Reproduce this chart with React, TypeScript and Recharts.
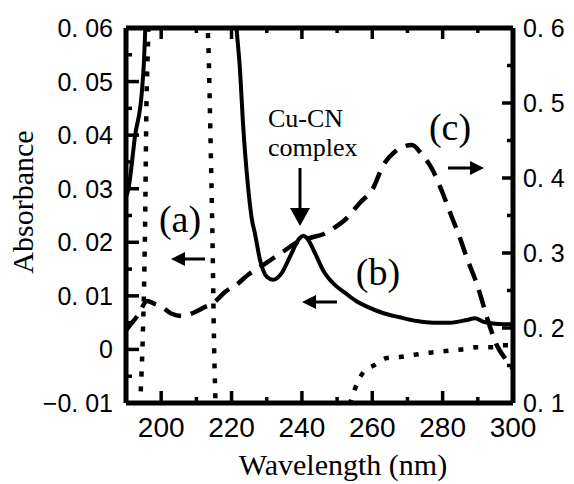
import React from 'react';
import { LineChart, Line, XAxis, YAxis } from 'recharts';

// axis ticks
const nmTicks = [200, 210, 220, 230, 240, 250, 260, 270, 280, 290, 300];
const nmLabels = ['200', '', '220', '', '240', '', '260', '', '280', '', '300'];
const absTicks = [-0.01, -0.005, 0, 0.005, 0.01, 0.015, 0.02, 0.025, 0.03, 0.035, 0.04, 0.045, 0.05, 0.055, 0.06];
const absLabels = ['−0. 01', '', '0', '', '0. 01', '', '0. 02', '', '0. 03', '', '0. 04', '', '0. 05', '', '0. 06'];
const rightTicks = [0.1, 0.15, 0.2, 0.25, 0.3, 0.35, 0.4, 0.45, 0.5, 0.55, 0.6];
const rightLabels = ['0. 1', '', '0. 2', '', '0. 3', '', '0. 4', '', '0. 5', '', '0. 6'];

// (a) dotted, left axis
const aNm = [190, 193.6, 194.1, 194.8, 195.4, 195.8, 196.3, 197, 205, 212, 212.8, 213.5, 214.0, 214.6, 215.0, 215.4, 216, 230, 250, 253.5, 255, 257.3, 260.7, 264.1, 267.8, 272, 276.4, 281, 285.5, 289.7, 294.8, 297.1, 300];
const aAbs = [-0.03, -0.015, -0.009, 0.003, 0.022, 0.045, 0.058, 0.075, 0.09, 0.08, 0.065, 0.055, 0.04, 0.02, 0.002, -0.009, -0.02, -0.03, -0.02, -0.0105, -0.0075, -0.0044, -0.0029, -0.0016, -0.0014, -0.001, -0.0006, -0.0003, 0.0, 0.0004, 0.0004, 0.0008, 0.0008];

// (b) solid, left axis
const bNm = [190, 190.6, 192.6, 194.5, 195.1, 195.4, 196, 200, 210, 220.5, 221.5, 222.4, 223.2, 224.7, 225.8, 226.6, 228.1, 230.1, 231.8, 234.3, 236.6, 239.4, 240.4, 241.4, 243.7, 246, 248.8, 252.4, 255.5, 258.5, 263, 267.8, 272.7, 277.3, 282, 286.9, 289.2, 291.4, 295, 300];
const bAbs = [0.0285, 0.0297, 0.040, 0.048, 0.0537, 0.0585, 0.068, 0.09, 0.09, 0.068, 0.0593, 0.0522, 0.0428, 0.0303, 0.0242, 0.0218, 0.0167, 0.0135, 0.0130, 0.0143, 0.0173, 0.0208, 0.0212, 0.0208, 0.0180, 0.0148, 0.0124, 0.0105, 0.0090, 0.0080, 0.0068, 0.0060, 0.0053, 0.0050, 0.0050, 0.0055, 0.0058, 0.0052, 0.0048, 0.0047];

// (c) dashed, right axis
const cNm = [190, 191, 193.4, 196, 198.2, 200.2, 203, 206, 209, 212.4, 214.7, 218.4, 221.5, 224.7, 228, 231.5, 235, 238.9, 243, 246, 249, 252.2, 256.5, 260.2, 263, 266.4, 269, 271.3, 274, 277, 280, 282.6, 284.3, 287, 290, 292.8, 295.4, 298, 300];
const cAbs = [0.197, 0.203, 0.217, 0.236, 0.232, 0.228, 0.219, 0.216, 0.220, 0.228, 0.233, 0.249, 0.258, 0.271, 0.281, 0.292, 0.303, 0.315, 0.321, 0.325, 0.333, 0.344, 0.367, 0.386, 0.416, 0.435, 0.442, 0.444, 0.432, 0.412, 0.380, 0.348, 0.328, 0.292, 0.255, 0.211, 0.177, 0.158, 0.145];

const toRows = (xs: number[], ys: number[]) => xs.map((nm, i) => ({ nm, v: ys[i] }));
const dataA = toRows(aNm, aAbs);
const dataB = toRows(bNm, bAbs);
const dataC = toRows(cNm, cAbs);

const tickFont = 'Liberation Sans, Arial, sans-serif';
const serif = 'Liberation Serif, Times New Roman, serif';

const BottomTick = ({ x, y, index }: any) => {
  const label = nmLabels[index];
  return (
    <g>
      <line x1={x} x2={x} y1={y} y2={y - (label ? 12 : 6)} stroke="#000" strokeWidth={3.5} />
      {label && (
        <text x={x} y={y + 34} textAnchor="middle" fontFamily="Liberation Sans Narrow, Arial Narrow, sans-serif" fontSize={28} fill="#000">
          {label}
        </text>
      )}
    </g>
  );
};

const TopTick = ({ x, y, index }: any) => {
  const major = nmLabels[index] !== '';
  return <line x1={x} x2={x} y1={y} y2={y + (major ? 11 : 5)} stroke="#000" strokeWidth={3.5} />;
};

const LeftTick = ({ x, y, index }: any) => {
  const label = absLabels[index];
  return (
    <g>
      <line x1={x} x2={x + (label ? 13 : 6)} y1={y} y2={y} stroke="#000" strokeWidth={3.5} />
      {label && (
        <text x={x - 13} y={y + 9} textAnchor="end" fontFamily={tickFont} fontSize={25} fill="#000">
          {label}
        </text>
      )}
    </g>
  );
};

const RightTick = ({ x, y, index }: any) => {
  const label = rightLabels[index];
  return (
    <g>
      <line x1={x} x2={x - (label ? 11 : 6)} y1={y} y2={y} stroke="#000" strokeWidth={3.5} />
      {label && (
        <text x={x + 10} y={y + 9} textAnchor="start" fontFamily={tickFont} fontSize={25} fill="#000">
          {label}
        </text>
      )}
    </g>
  );
};

const Arrow = ({ x1, y1, x2, y2, head = 14, half = 7 }: any) => {
  const dx = x2 - x1;
  const dy = y2 - y1;
  const len = Math.hypot(dx, dy);
  const ux = dx / len;
  const uy = dy / len;
  const bx = x2 - ux * head;
  const by = y2 - uy * head;
  return (
    <g>
      <line x1={x1} y1={y1} x2={bx} y2={by} stroke="#000" strokeWidth={3} />
      <polygon
        points={`${x2},${y2} ${bx - uy * half},${by + ux * half} ${bx + uy * half},${by - ux * half}`}
        fill="#000"
      />
    </g>
  );
};

export default function App() {
  const axisLine = { stroke: '#000', strokeWidth: 5 };
  return (
    <div style={{ position: 'absolute', left: 0, top: 0, width: 574, height: 484, background: '#fff' }}>
      <LineChart width={574} height={484} margin={{ top: 8, right: 11, bottom: 41, left: 66 }}>
        <XAxis
          xAxisId="bottom"
          type="number"
          dataKey="nm"
          domain={[190, 300]}
          allowDataOverflow
          ticks={nmTicks}
          interval={0}
          height={40}
          tickSize={0}
          tickMargin={0}
          tickLine={false}
          axisLine={axisLine}
          tick={<BottomTick />}
        />
        <XAxis
          xAxisId="top"
          orientation="top"
          type="number"
          dataKey="nm"
          domain={[190, 300]}
          allowDataOverflow
          ticks={nmTicks}
          interval={0}
          height={20}
          tickSize={0}
          tickMargin={0}
          tickLine={false}
          axisLine={axisLine}
          tick={<TopTick />}
        />
        <YAxis
          yAxisId="left"
          type="number"
          domain={[-0.01, 0.06]}
          allowDataOverflow
          ticks={absTicks}
          interval={0}
          width={60}
          tickSize={0}
          tickMargin={0}
          tickLine={false}
          axisLine={axisLine}
          tick={<LeftTick />}
        />
        <YAxis
          yAxisId="right"
          orientation="right"
          type="number"
          domain={[0.1, 0.6]}
          allowDataOverflow
          ticks={rightTicks}
          interval={0}
          width={50}
          tickSize={0}
          tickMargin={0}
          tickLine={false}
          axisLine={axisLine}
          tick={<RightTick />}
        />
        <Line
          data={dataA}
          dataKey="v"
          xAxisId="bottom"
          yAxisId="left"
          type="monotone"
          stroke="#000"
          strokeWidth={4.5}
          strokeDasharray="5 10"
          dot={false}
          isAnimationActive={false}
        />
        <Line
          data={dataB}
          dataKey="v"
          xAxisId="bottom"
          yAxisId="left"
          type="monotone"
          stroke="#000"
          strokeWidth={4}
          dot={false}
          isAnimationActive={false}
        />
        <Line
          data={dataC}
          dataKey="v"
          xAxisId="bottom"
          yAxisId="right"
          type="monotone"
          stroke="#000"
          strokeWidth={4.5}
          strokeDasharray="18 10"
          dot={false}
          isAnimationActive={false}
        />
      </LineChart>

      <svg width={574} height={484} style={{ position: 'absolute', left: 0, top: 0, pointerEvents: 'none' }}>
        <text x={343} y={475} textAnchor="middle" fontFamily={serif} fontSize={30} fill="#000">
          Wavelength (nm)
        </text>
        <text x={33} y={202} transform="rotate(-90 33 202)" textAnchor="middle" fontFamily={serif} fontSize={30} fill="#000">
          Absorbance
        </text>
        <text x={180} y={232} textAnchor="middle" fontFamily={serif} fontSize={38} fill="#000">(a)</text>
        <text x={378} y={285} textAnchor="middle" fontFamily={serif} fontSize={38} fill="#000">(b)</text>
        <text x={450} y={140} textAnchor="middle" fontFamily={serif} fontSize={38} fill="#000">(c)</text>
        <text x={268} y={127} fontFamily={serif} fontSize={26} fill="#000">Cu-CN</text>
        <text x={268} y={156} fontFamily={serif} fontSize={26} fill="#000">complex</text>
        <Arrow x1={205} y1={259} x2={171} y2={259} />
        <Arrow x1={337} y1={302} x2={302} y2={302} />
        <Arrow x1={448} y1={168} x2={484} y2={168} />
        <Arrow x1={300} y1={168} x2={300} y2={226} head={18} half={10} />
      </svg>
    </div>
  );
}
